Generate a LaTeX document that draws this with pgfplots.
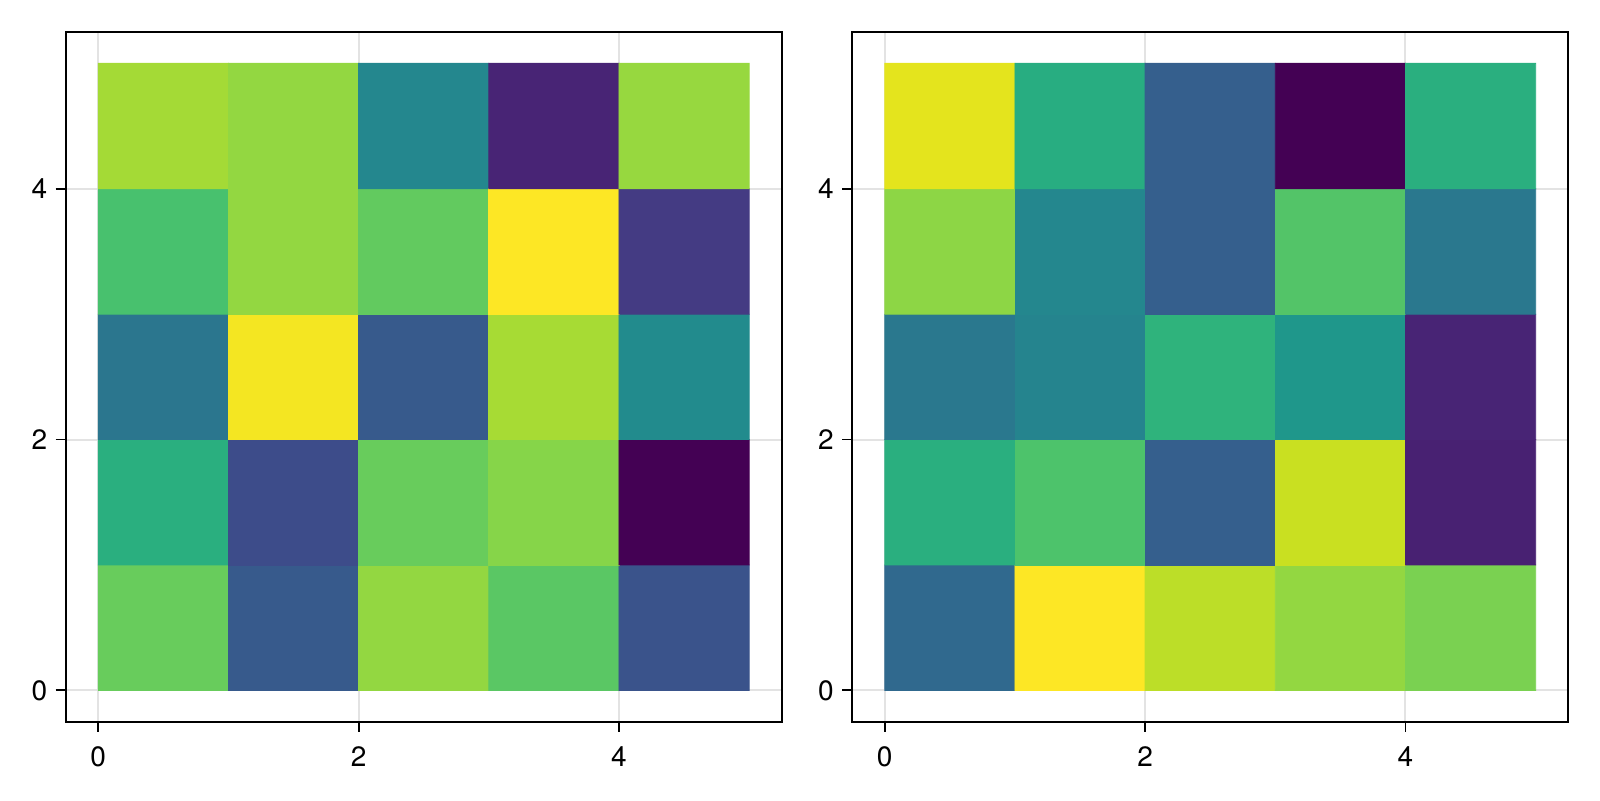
\documentclass[border=0pt]{standalone}
\usepackage{fontspec}
\setmainfont{TeX Gyre Heros}
\usepackage{pgfplots}
\pgfplotsset{compat=1.18}
\definecolor{gridc}{gray}{0.89}
\pgfplotsset{hm/.style={
  width=358pt, height=344.85pt, scale only axis,
  xmin=-0.25, xmax=5.25, ymin=-0.25, ymax=5.25,
  xtick={0,2,4}, ytick={0,2,4},
  tick align=outside, major tick length=5pt, tick pos=left,
  tick style={black, line width=0.9pt},
  axis line style={line width=0.9pt},
  grid=major, major grid style={gridc, line width=1pt},
  colormap/viridis, point meta min=0, point meta max=1,
  ticklabel style={font=\fontsize{14}{16}\selectfont, inner sep=0pt},
  xticklabel style={yshift=-7.5pt},
  yticklabel style={xshift=-4pt},
  /pgf/number format/assume math mode=true,
  anchor=south west,
}}
\pgfplotstableread{
x y c
0.5 0.5 0.77
1.5 0.5 0.28
2.5 0.5 0.84
3.5 0.5 0.745
4.5 0.5 0.255
0.5 1.5 0.63
1.5 1.5 0.23
2.5 1.5 0.77
3.5 1.5 0.82
4.5 1.5 0.0
0.5 2.5 0.39
1.5 2.5 0.985
2.5 2.5 0.28
3.5 2.5 0.87
4.5 2.5 0.48
0.5 3.5 0.71
1.5 3.5 0.84
2.5 3.5 0.76
3.5 3.5 1.0
4.5 3.5 0.17
0.5 4.5 0.865
1.5 4.5 0.84
2.5 4.5 0.46
3.5 4.5 0.10
4.5 4.5 0.845
}\lefttab
\pgfplotstableread{
x y c
0.5 0.5 0.34
1.5 0.5 1.0
2.5 0.5 0.90
3.5 0.5 0.84
4.5 0.5 0.80
0.5 1.5 0.63
1.5 1.5 0.72
2.5 1.5 0.30
3.5 1.5 0.92
4.5 1.5 0.09
0.5 2.5 0.40
1.5 2.5 0.45
2.5 2.5 0.65
3.5 2.5 0.53
4.5 2.5 0.10
0.5 3.5 0.83
1.5 3.5 0.46
2.5 3.5 0.30
3.5 3.5 0.73
4.5 3.5 0.40
0.5 4.5 0.96
1.5 4.5 0.62
2.5 4.5 0.30
3.5 4.5 0.0
4.5 4.5 0.63
}\righttab
\begin{document}
\begin{tikzpicture}[x=1pt,y=1pt]
\path[use as bounding box] (0,0) rectangle (800,400);
\begin{axis}[hm, at={(32.85pt,39.15pt)}]
\addplot[matrix plot*, mesh/cols=5, point meta=explicit] table[meta=c] {\lefttab};
\end{axis}
\begin{axis}[hm, at={(426.1pt,39.15pt)}]
\addplot[matrix plot*, mesh/cols=5, point meta=explicit] table[meta=c] {\righttab};
\end{axis}
\end{tikzpicture}
\end{document}
